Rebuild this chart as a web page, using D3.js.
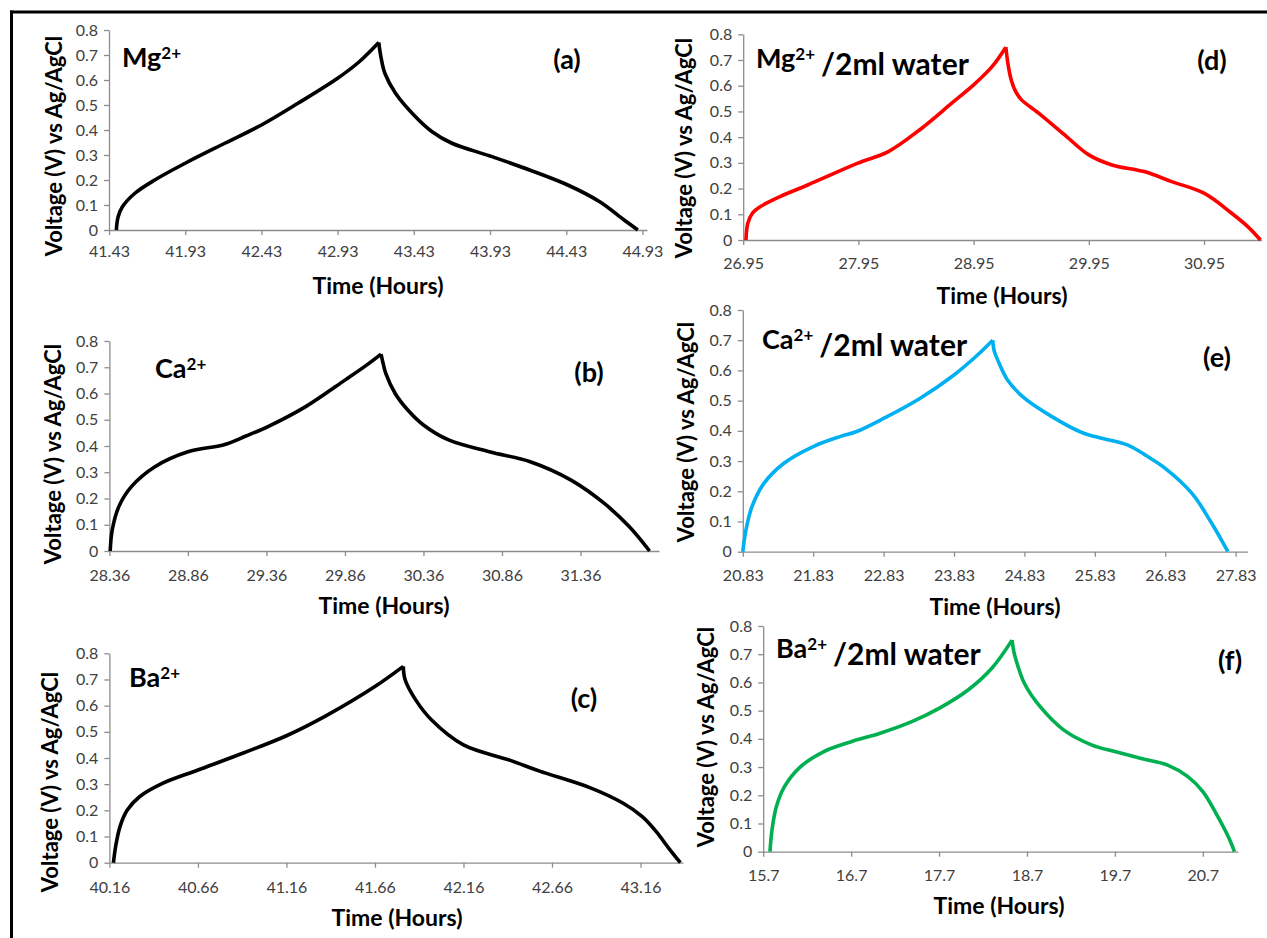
<!DOCTYPE html>
<html><head><meta charset="utf-8">
<script src="https://cdn.jsdelivr.net/npm/d3@7"></script>
<style>
html,body{margin:0;padding:0;background:#fff;}
text{font-family:Lato,"Open Sans",sans-serif;}
</style></head>
<body>
<svg id="chart" width="1267" height="938"></svg>
<script>
// ---------- data ----------
const voltTicks = ["0","0.1","0.2","0.3","0.4","0.5","0.6","0.7","0.8"];

const mgTicks = ["41.43","41.93","42.43","42.93","43.43","43.93","44.43","44.93"];
const mgTime = [41.478,41.49,41.518,41.60,41.73,41.93,42.19,42.43,42.67,42.93,43.07,43.20,
                43.215,43.24,43.31,43.43,43.55,43.68,43.93,44.19,44.44,44.65,44.81,44.90];
const mgVolt = [0,0.053,0.093,0.147,0.2,0.267,0.347,0.42,0.507,0.607,0.672,0.75,
                0.69,0.627,0.547,0.46,0.393,0.347,0.296,0.24,0.18,0.113,0.04,0];

const caTicks = ["28.36","28.86","29.36","29.86","30.36","30.86","31.36"];
const caTime = [28.365,28.378,28.42,28.50,28.65,28.86,29.09,29.23,29.37,29.61,29.86,30.00,30.09,
                30.105,30.12,30.18,30.26,30.36,30.52,30.78,31.04,31.30,31.51,31.67,31.80];
const caVolt = [0,0.08,0.169,0.245,0.321,0.378,0.405,0.438,0.474,0.55,0.651,0.709,0.75,
                0.71,0.677,0.60,0.537,0.48,0.423,0.378,0.34,0.27,0.182,0.093,0];

const baTicks = ["40.16","40.66","41.16","41.66","42.16","42.66","43.16"];
const baTime = [40.183,40.195,40.22,40.26,40.33,40.46,40.66,40.92,41.16,41.38,41.66,41.82,
                41.83,41.89,41.98,42.16,42.42,42.59,42.87,43.06,43.17,43.25,43.32,43.385];
const baVolt = [0,0.061,0.138,0.2,0.252,0.303,0.354,0.42,0.485,0.56,0.673,0.75,
                0.70,0.622,0.545,0.45,0.392,0.350,0.288,0.228,0.176,0.118,0.055,0];

const mgwTicks = ["26.95","27.95","28.95","29.95","30.95"];
const mgwTime = [26.974,26.99,27.03,27.10,27.27,27.51,27.94,28.21,28.48,28.76,28.95,29.11,29.23,
                 29.25,29.28,29.31,29.36,29.53,29.73,29.95,30.15,30.43,30.67,30.95,31.19,31.33,31.44];
const mgwVolt = [0,0.065,0.104,0.13,0.169,0.214,0.298,0.344,0.428,0.532,0.603,0.674,0.75,
                 0.68,0.617,0.582,0.548,0.488,0.413,0.331,0.292,0.266,0.227,0.182,0.104,0.052,0];

const cawTicks = ["20.83","21.83","22.83","23.83","24.83","25.83","26.83","27.83"];
const cawTime = [20.83,20.875,20.96,21.13,21.41,21.83,22.21,22.44,22.83,23.35,23.83,24.14,24.38,
                 24.40,24.45,24.59,24.83,25.22,25.62,25.83,26.30,26.58,26.83,27.21,27.49,27.72];
const cawVolt = [0,0.072,0.149,0.226,0.292,0.348,0.381,0.397,0.441,0.508,0.585,0.646,0.70,
                 0.665,0.635,0.568,0.508,0.447,0.397,0.381,0.353,0.315,0.276,0.193,0.094,0];

const bawTicks = ["15.7","16.7","17.7","18.7","19.7","20.7"];
const bawTime = [15.777,15.80,15.85,15.94,16.12,16.39,16.70,17.03,17.39,17.70,18.03,18.30,18.53,
                 18.55,18.575,18.67,18.85,19.12,19.44,19.70,19.99,20.30,20.53,20.70,20.85,20.99,21.06];
const bawVolt = [0,0.077,0.16,0.23,0.30,0.355,0.39,0.42,0.461,0.508,0.573,0.65,0.75,
                 0.71,0.68,0.597,0.514,0.431,0.378,0.355,0.331,0.307,0.266,0.213,0.136,0.053,0];

// ---------- layout ----------
const panels = [
  {t:mgTime, v:mgVolt, ticks:mgTicks, xmax:44.96, color:"#000000",
   x0:109, x1:647, y0:230, y1:30, ion:"Mg", extra:"", lx:122, ly:67, tag:"(a)", tx:567, ty:69,
   ytx:53, yty:146, xtx:378, xty:294, lab:22},
  {t:caTime, v:caVolt, ticks:caTicks, xmax:31.86, color:"#000000",
   x0:109.4, x1:659, y0:551, y1:341, ion:"Ca", extra:"", lx:155, ly:378, tag:"(b)", tx:589, ty:382,
   ytx:52, yty:454, xtx:384, xty:614, lab:25},
  {t:baTime, v:baVolt, ticks:baTicks, xmax:43.40, color:"#000000",
   x0:109.4, x1:683, y0:862.7, y1:653.3, ion:"Ba", extra:"", lx:129, ly:687, tag:"(c)", tx:584, ty:708,
   ytx:49, yty:782, xtx:397, xty:926, lab:25},
  {t:mgwTime, v:mgwVolt, ticks:mgwTicks, xmax:31.45, color:"#ff0000",
   x0:743.2, x1:1261.6, y0:240, y1:34.3, ion:"Mg", extra:"/2ml water", lx:756, ly:68, tag:"(d)", tx:1212, ty:70,
   ytx:683, yty:148, xtx:1002, xty:304, lab:24},
  {t:cawTime, v:cawVolt, ticks:cawTicks, xmax:28.0, color:"#00b0f0",
   x0:742.8, x1:1247.6, y0:551.7, y1:310, ion:"Ca", extra:"/2ml water", lx:762, ly:349, tag:"(e)", tx:1217, ty:367,
   ytx:685, yty:432, xtx:995, xty:615, lab:24},
  {t:bawTime, v:bawVolt, ticks:bawTicks, xmax:21.1, color:"#00b050",
   x0:763.2, x1:1238, y0:851.7, y1:626, ion:"Ba", extra:"/2ml water", lx:776, ly:658, tag:"(f)", tx:1230, ty:670,
   ytx:705, yty:737, xtx:999, xty:914, lab:24}
];

const svg = d3.select("#chart");
svg.append("rect").attr("width",1267).attr("height",938).attr("fill","#fff");
// frame
svg.append("line").attr("x1",10).attr("x2",1267).attr("y1",12).attr("y2",12)
   .attr("stroke","#000").attr("stroke-width",3);
svg.append("line").attr("x1",11.5).attr("x2",11.5).attr("y1",10.5).attr("y2",938)
   .attr("stroke","#000").attr("stroke-width",3);

const axisColor = "#8c8c8c";
const tickColor = "#404040";

panels.forEach(p => {
  const tmin = parseFloat(p.ticks[0]);
  const x = d3.scaleLinear().domain([tmin, p.xmax]).range([p.x0, p.x1]);
  const y = d3.scaleLinear().domain([0, 0.8]).range([p.y0, p.y1]);
  const g = svg.append("g");

  // y axis
  const ya = d3.axisLeft(y).tickValues(voltTicks.map(Number))
      .tickFormat((d,i)=>voltTicks[i]).tickSize(5).tickPadding(6).tickSizeOuter(0);
  const yg = g.append("g").attr("transform",`translate(${p.x0},0)`).call(ya);
  yg.select(".domain").attr("stroke",axisColor).attr("stroke-width",1.3);
  yg.selectAll(".tick line").attr("stroke",axisColor).attr("stroke-width",1.3);
  yg.selectAll(".tick text").attr("fill",tickColor).style("font-size","16px")
     .style("font-family","Lato, sans-serif");

  // x axis
  const xa = d3.axisBottom(x).tickValues(p.ticks.map(Number))
      .tickFormat((d,i)=>p.ticks[i]).tickSize(5).tickPadding(p.lab-5-6).tickSizeOuter(0);
  const xg = g.append("g").attr("transform",`translate(0,${p.y0})`).call(xa);
  xg.select(".domain").attr("stroke",axisColor).attr("stroke-width",1.3);
  xg.selectAll(".tick line").attr("stroke",axisColor).attr("stroke-width",1.3);
  xg.selectAll(".tick text").attr("fill",tickColor).style("font-size","16px")
     .style("font-family","Lato, sans-serif");

  // curve: split into charge and discharge at the peak
  const pts = p.t.map((t,i)=>[t,p.v[i]]);
  const pk = d3.maxIndex(p.v);
  const line = d3.line().x(d=>x(d[0])).y(d=>y(d[1])).curve(d3.curveCatmullRom.alpha(0.5));
  [pts.slice(0,pk+1), pts.slice(pk)].forEach(seg => {
    g.append("path").attr("d", line(seg)).attr("fill","none")
     .attr("stroke",p.color).attr("stroke-width",3.6)
     .attr("stroke-linejoin","round").attr("stroke-linecap","butt");
  });

  // axis titles
  g.append("text").attr("transform",`translate(${p.ytx},${p.yty}) rotate(-90)`)
   .attr("text-anchor","middle").attr("dominant-baseline","central")
   .style("font-size","22px").style("font-weight","700").attr("fill","#000")
   .text("Voltage (V) vs Ag/AgCl");
  g.append("text").attr("x",p.xtx).attr("y",p.xty).attr("text-anchor","middle")
   .style("font-size","23px").style("font-weight","700").attr("fill","#000")
   .text("Time (Hours)");

  // ion label with superscript
  const lt = g.append("text").attr("x",p.lx).attr("y",p.ly)
   .style("font-size","27px").style("font-weight","700").attr("fill","#000");
  lt.append("tspan").text(p.ion);
  lt.append("tspan").attr("dy","-0.5em").style("font-size","17px").text("2+");
  if (p.extra) lt.append("tspan").attr("dy","0.5em").attr("dx","6")
      .style("font-size","30px").text(p.extra);

  // panel tag
  g.append("text").attr("x",p.tx).attr("y",p.ty).attr("text-anchor","middle")
   .style("font-size","27px").style("font-weight","700").attr("fill","#000")
   .text(p.tag);
});
</script>
</body></html>
